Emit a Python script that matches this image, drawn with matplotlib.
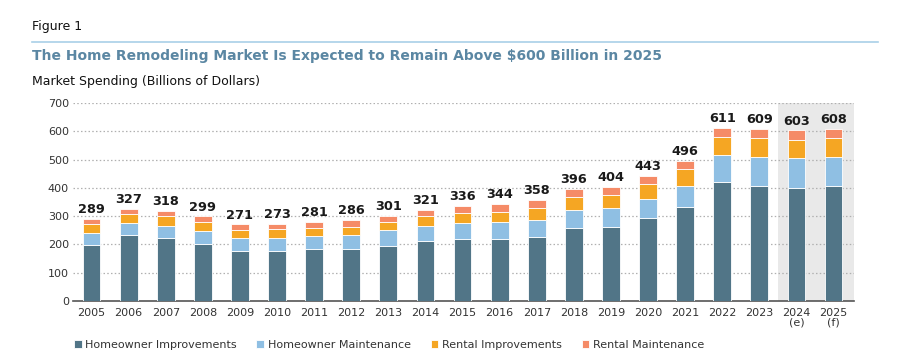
import matplotlib
matplotlib.use('Agg')
import matplotlib.pyplot as plt
from matplotlib.lines import Line2D

# ─── DATOS ────────────────────────────────────────────────────────────────────
years = ['2005', '2006', '2007', '2008', '2009', '2010', '2011', '2012', '2013',
         '2014', '2015', '2016', '2017', '2018', '2019', '2020', '2021', '2022',
         '2023', '2024\n(e)', '2025\n(f)']
totals = [289, 327, 318, 299, 271, 273, 281, 286, 301, 321, 336, 344, 358,
          396, 404, 443, 496, 611, 609, 603, 608]
homeowner_improvements = [197, 232, 221, 202, 175, 178, 184, 184, 196, 212, 220,
                          220, 228, 258, 262, 292, 331, 420, 406, 400, 406]
homeowner_maintenance = [44, 45, 44, 46, 46, 45, 47, 51, 54, 53, 56,
                         59, 60, 64, 66, 69, 75, 95, 103, 105, 103]
rental_improvements = [30, 30, 36, 32, 29, 30, 27, 27, 30, 35, 34,
                       37, 41, 47, 46, 53, 61, 64, 66, 64, 66]
# Rental Maintenance = total - resto
rental_maintenance = [t - a - b - c for t, a, b, c in
                      zip(totals, homeowner_improvements, homeowner_maintenance, rental_improvements)]

series = [
    ('Homeowner Improvements', homeowner_improvements, '#517587'),
    ('Homeowner Maintenance', homeowner_maintenance, '#8fbfe3'),
    ('Rental Improvements', rental_improvements, '#f5a623'),
    ('Rental Maintenance', rental_maintenance, '#f58b67'),
]

# ─── FIGURA ───────────────────────────────────────────────────────────────────
fig = plt.figure(figsize=(8.98, 3.59), dpi=100)
ax = fig.add_axes([0.0813, 0.1616, 0.8697, 0.5514])

x = list(range(len(years)))
ax.axvspan(18.5, 20.55, color='#e9e9e9', zorder=0, lw=0)

bottom = [0] * len(years)
for name, vals, col in series:
    ax.bar(x, vals, bottom=bottom, width=0.48, color=col, label=name,
           edgecolor='white', linewidth=0.6, zorder=3)
    bottom = [b + v for b, v in zip(bottom, vals)]

for xi, t in zip(x, totals):
    ax.annotate(str(t), xy=(xi, t), xytext=(0, 2), textcoords='offset points',
                ha='center', va='bottom', fontsize=9.3, fontweight='bold',
                color='#1a1a1a', zorder=4)

ax.set_xlim(-0.5, 20.55)
ax.set_ylim(0, 700)
ax.set_yticks(range(0, 701, 100))
ax.set_xticks(x)
ax.set_xticklabels(years, linespacing=1.0)
ax.tick_params(axis='both', length=0, labelsize=8, colors='#333333')
ax.tick_params(axis='x', pad=5)
ax.tick_params(axis='y', pad=3)
for yv in range(100, 701, 100):
    ax.axhline(yv, color='#b0b0b0', linestyle=(0, (1.2, 1.8)), linewidth=0.9, zorder=1)
for s in ['top', 'right', 'left']:
    ax.spines[s].set_visible(False)
ax.spines['bottom'].set_color('#555555')
ax.spines['bottom'].set_linewidth(1.2)

# ─── TEXTOS ───────────────────────────────────────────────────────────────────
fig.text(0.036, 0.925, 'Figure 1', fontsize=9, color='#111111', va='center')
fig.add_artist(Line2D([0.036, 0.978], [0.883, 0.883], color='#a9d0e8', lw=1.2))
fig.text(0.036, 0.843,
         'The Home Remodeling Market Is Expected to Remain Above $600 Billion in 2025',
         fontsize=10, fontweight='bold', color='#5b87a3', va='center')
fig.text(0.036, 0.772, 'Market Spending (Billions of Dollars)', fontsize=9,
         color='#111111', va='center')

fig.legend(loc='center left', bbox_to_anchor=(0.071, 0.04), ncol=4, frameon=False,
           fontsize=8, handlelength=0.7, handleheight=0.7, handletextpad=0.3,
           columnspacing=1.8, labelcolor='#333333')

plt.savefig('out.png', dpi=100)
plt.close()
